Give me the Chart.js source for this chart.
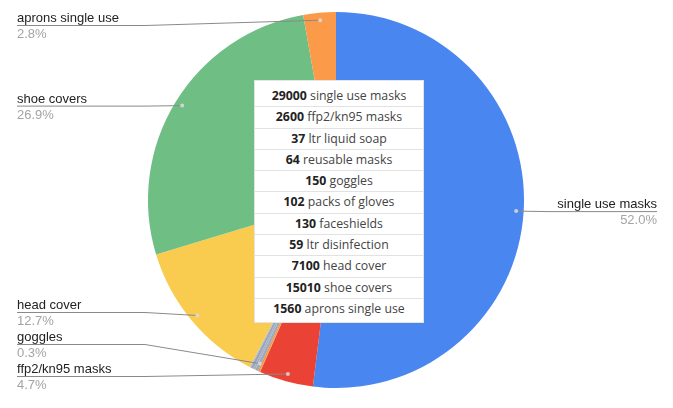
<!DOCTYPE html>
<html>
<head>
<meta charset="utf-8">
<script src="https://cdn.jsdelivr.net/npm/chart.js@4.4.0/dist/chart.umd.min.js"></script>
<style>
  html, body { margin: 0; padding: 0; background: #fff; }
  #wrap { position: relative; width: 673px; height: 408px; }
  #totals {
    position: absolute; left: 254px; top: 80px; width: 168px;
    padding: 5px 0 2px 0;
    background: #fff; border: 1px solid #e4e4e4;
    font-family: "Open Sans", sans-serif; font-size: 12.3px; color: #444;
  }
  #totals div {
    box-sizing: border-box;
    height: 21.3px; line-height: 20.3px; text-align: center;
    border-bottom: 1px solid #e2e2e2; white-space: nowrap;
  }
  #totals div:last-child { border-bottom: none; }
  #totals b { color: #222; font-weight: 700; }
</style>
</head>
<body>
<div id="wrap">
  <canvas id="pieChart" width="673" height="408"></canvas>
  <div id="totals"></div>
</div>
<script>
/* ---------- data ---------- */
const categories = [
    "single use masks", "ffp2/kn95 masks", "ltr liquid soap", "reusable masks",
    "goggles", "packs of gloves", "faceshields", "ltr disinfection",
    "head cover", "shoe covers", "aprons single use"
];
const values = [29000, 2600, 37, 64, 150, 102, 130, 59, 7100, 15010, 1560];
const sliceColors = [
    "#4a86f0", "#ea4335", "#f39a3a", "#ff8a2a", "#9ea9bd",
    "#a7b1c2", "#99a5b8", "#b3b8c2", "#f9cb4f", "#6fbf85", "#fb9a48"
];
// slices that get an outside label
const labeledSlices = [
    "single use masks", "ffp2/kn95 masks", "goggles",
    "head cover", "shoe covers", "aprons single use"
];

/* ---------- totals box ---------- */
const totalsBox = document.getElementById("totals");
categories.forEach((c, i) => {
    totalsBox.innerHTML += `<div><b>${values[i]}</b> ${c}</div>`;
});

/* ---------- outside labels with leader lines ---------- */
const sideLabels = {
    id: "sideLabels",
    afterDatasetsDraw(chart) {
        const ctx = chart.ctx;
        const meta = chart.getDatasetMeta(0);
        const total = values.reduce((a, b) => a + b, 0);
        const left = [], right = [];

        meta.data.forEach((arc, i) => {
            if (!labeledSlices.includes(categories[i])) return;
            const mid = (arc.startAngle + arc.endAngle) / 2;
            const r = arc.outerRadius * 0.96;
            const px = arc.x + Math.cos(mid) * r;
            const py = arc.y + Math.sin(mid) * r;
            const item = { i, px, py, y: py };
            (Math.cos(mid) < 0 ? left : right).push(item);
        });

        // keep labels apart
        const gap = 32, minY = 25, maxY = 376;
        [left, right].forEach(list => {
            list.sort((a, b) => a.py - b.py);
            for (let k = 0; k < list.length; k++) {
                let lo = k ? list[k - 1].y + gap : minY;
                list[k].y = Math.max(list[k].y, lo);
            }
            for (let k = list.length - 1; k >= 0; k--) {
                let hi = k < list.length - 1 ? list[k + 1].y - gap : maxY;
                list[k].y = Math.min(list[k].y, hi);
            }
        });

        ctx.save();
        ctx.font = "13px 'Liberation Sans', Arial, sans-serif";
        const draw = (it, isLeft) => {
            const xEdge = isLeft ? 17 : 657;
            const xBend = isLeft ? 145 : 548;
            ctx.strokeStyle = "#8a8a8a";
            ctx.lineWidth = 1;
            ctx.beginPath();
            ctx.moveTo(xEdge, it.y + 0.5);
            ctx.lineTo(xBend, it.y + 0.5);
            ctx.lineTo(it.px, it.py);
            ctx.stroke();

            ctx.fillStyle = "rgba(220,220,220,0.85)";
            ctx.beginPath();
            ctx.arc(it.px, it.py, 2, 0, Math.PI * 2);
            ctx.fill();

            ctx.textAlign = isLeft ? "left" : "right";
            ctx.textBaseline = "alphabetic";
            ctx.fillStyle = "#222";
            ctx.fillText(categories[it.i], xEdge, it.y - 3);
            ctx.textBaseline = "top";
            ctx.fillStyle = "#a4a4a4";
            ctx.fillText((values[it.i] / total * 100).toFixed(1) + "%", xEdge, it.y + 3);
        };
        left.forEach(it => draw(it, true));
        right.forEach(it => draw(it, false));
        ctx.restore();
    }
};

/* ---------- pie ---------- */
new Chart(document.getElementById("pieChart"), {
    type: "pie",
    data: {
        labels: categories,
        datasets: [{
            data: values,
            backgroundColor: sliceColors,
            borderWidth: 0
        }]
    },
    options: {
        responsive: false,
        animation: false,
        layout: { padding: { top: 12, bottom: 20, left: 0, right: 1 } },
        plugins: {
            legend: { display: false },
            tooltip: { enabled: false }
        }
    },
    plugins: [sideLabels]
});
</script>
</body>
</html>
